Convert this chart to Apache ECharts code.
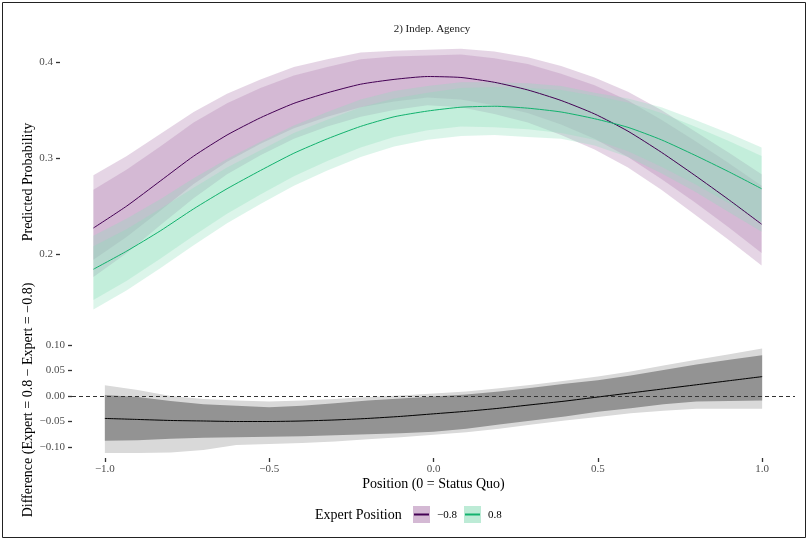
<!DOCTYPE html>
<html>
<head>
<meta charset="utf-8">
<script src="https://cdn.jsdelivr.net/npm/echarts@6/dist/echarts.min.js"></script>
<style>
  html, body { margin: 0; padding: 0; background: #fff; }
  #main { width: 808px; height: 540px; }
</style>
</head>
<body>
<div id="main"></div>
<script>
// positions on the policy scale
const xs = [-1.0, -0.9, -0.8, -0.7, -0.6, -0.5, -0.4, -0.3, -0.2, -0.1, 0.0,
            0.1, 0.2, 0.3, 0.4, 0.5, 0.6, 0.7, 0.8, 0.9, 1.0];

// expert = -0.8 (purple)
const pMid = [0.227, 0.250, 0.276, 0.302, 0.324, 0.342, 0.357, 0.368, 0.377, 0.382, 0.385,
              0.384, 0.379, 0.371, 0.360, 0.346, 0.328, 0.306, 0.282, 0.257, 0.231];
const pInLo = [0.194, 0.218, 0.245, 0.273, 0.296, 0.315, 0.331, 0.343, 0.353, 0.359, 0.363,
               0.361, 0.355, 0.347, 0.335, 0.320, 0.301, 0.278, 0.254, 0.228, 0.201];
const pInHi = [0.267, 0.288, 0.312, 0.337, 0.357, 0.373, 0.386, 0.395, 0.403, 0.406, 0.407,
               0.408, 0.404, 0.398, 0.388, 0.376, 0.360, 0.340, 0.318, 0.295, 0.271];
const pOutLo = [0.176, 0.201, 0.230, 0.258, 0.283, 0.303, 0.320, 0.333, 0.343, 0.350, 0.355,
                0.353, 0.346, 0.337, 0.324, 0.309, 0.290, 0.267, 0.241, 0.215, 0.188];
const pOutHi = [0.282, 0.302, 0.325, 0.348, 0.367, 0.382, 0.395, 0.403, 0.410, 0.412, 0.413,
                0.414, 0.411, 0.405, 0.396, 0.384, 0.369, 0.350, 0.328, 0.306, 0.283];

// expert = 0.8 (green)
const gMid = [0.184, 0.203, 0.224, 0.247, 0.268, 0.287, 0.305, 0.320, 0.333, 0.343, 0.349,
              0.353, 0.354, 0.352, 0.348, 0.341, 0.332, 0.319, 0.303, 0.286, 0.268];
const gInLo = [0.152, 0.172, 0.195, 0.219, 0.242, 0.262, 0.281, 0.297, 0.311, 0.322, 0.329,
               0.333, 0.332, 0.330, 0.326, 0.319, 0.307, 0.291, 0.273, 0.253, 0.233];
const gInHi = [0.208, 0.226, 0.247, 0.269, 0.290, 0.308, 0.326, 0.340, 0.353, 0.362, 0.368,
               0.373, 0.374, 0.373, 0.371, 0.365, 0.358, 0.347, 0.333, 0.318, 0.302];
const gOutLo = [0.142, 0.162, 0.185, 0.209, 0.232, 0.252, 0.271, 0.287, 0.301, 0.312, 0.319,
                0.323, 0.324, 0.322, 0.320, 0.313, 0.301, 0.284, 0.265, 0.244, 0.223];
const gOutHi = [0.219, 0.237, 0.257, 0.279, 0.299, 0.317, 0.334, 0.348, 0.361, 0.370, 0.375,
                0.379, 0.379, 0.378, 0.375, 0.368, 0.362, 0.353, 0.340, 0.326, 0.311];

// difference (0.8 - (-0.8))
const dMid = [-0.044, -0.046, -0.048, -0.049, -0.050, -0.050, -0.049, -0.047, -0.044, -0.040, -0.035,
              -0.030, -0.024, -0.017, -0.010, -0.002, 0.006, 0.014, 0.022, 0.030, 0.038];
const dInLo = [-0.088, -0.087, -0.084, -0.082, -0.081, -0.080, -0.079, -0.077, -0.075, -0.073, -0.070,
               -0.064, -0.056, -0.048, -0.040, -0.031, -0.024, -0.016, -0.011, -0.010, -0.009];
const dInHi = [0.002, -0.002, -0.010, -0.016, -0.019, -0.022, -0.019, -0.014, -0.009, -0.005, -0.001,
               0.003, 0.009, 0.016, 0.024, 0.031, 0.040, 0.051, 0.062, 0.071, 0.080];
const dOutLo = [-0.112, -0.112, -0.111, -0.106, -0.096, -0.094, -0.092, -0.089, -0.085, -0.081, -0.076,
                -0.071, -0.064, -0.056, -0.048, -0.041, -0.034, -0.029, -0.025, -0.025, -0.025];
const dOutHi = [0.021, 0.012, 0.000, -0.006, -0.009, -0.011, -0.009, -0.006, -0.002, 0.001, 0.005,
                0.009, 0.015, 0.022, 0.030, 0.038, 0.048, 0.060, 0.071, 0.082, 0.093];

const topTicks = [0.2, 0.3, 0.4];
const diffTicks = [-0.10, -0.05, 0.00, 0.05, 0.10];
const xTicks = [-1.0, -0.5, 0.0, 0.5, 1.0];
const groupLabels = ['\u22120.8', '0.8'];

const FONT = '"Liberation Serif", "DejaVu Serif", serif';
const PURPLE = '#440154';
const GREEN = '#12b26e';
const minus = s => s.replace('-', '\u2212');

// ribbon drawn as polygon through the axis scales
function ribbon(lo, hi, fill, g) {
  return {
    type: 'custom',
    xAxisIndex: g,
    yAxisIndex: g,
    silent: true,
    z: 1,
    data: [[xs[0], lo[0]]],
    renderItem: function (params, api) {
      let pts = [];
      for (let i = 0; i < xs.length; i++) pts.push(api.coord([xs[i], hi[i]]));
      for (let i = xs.length - 1; i >= 0; i--) pts.push(api.coord([xs[i], lo[i]]));
      return { type: 'polygon', shape: { points: pts }, style: { fill: fill } };
    }
  };
}

function line(vals, color, g) {
  return {
    type: 'line',
    xAxisIndex: g,
    yAxisIndex: g,
    data: xs.map((x, i) => [x, vals[i]]),
    showSymbol: false,
    smooth: 0.2,
    silent: true,
    z: 3,
    lineStyle: { color: color, width: 1 }
  };
}

const chart = echarts.init(document.getElementById('main'));

let diffLine = line(dMid, '#000', 1);
diffLine.markLine = {
  silent: true,
  symbol: 'none',
  label: { show: false },
  lineStyle: { color: '#333', type: [4, 3], width: 1 },
  data: [{ yAxis: 0 }]
};

const tickStyle = { color: '#333', width: 1.3 };

const option = {
  backgroundColor: '#fff',
  animation: false,
  textStyle: { fontFamily: FONT },
  title: {
    text: '2) Indep. Agency',
    left: 427, top: 19,
    textAlign: 'center',
    textStyle: { fontFamily: FONT, fontSize: 11, fontWeight: 'normal', color: '#1a1a1a' }
  },
  grid: [
    { left: 60, width: 735, top: 42, height: 280 },
    { left: 72, width: 723, top: 342, height: 116 }
  ],
  xAxis: [
    { type: 'value', gridIndex: 0, min: -1.1, max: 1.1, show: false },
    {
      type: 'value', gridIndex: 1, min: -1.1, max: 1.1,
      name: 'Position (0 = Status Quo)', nameLocation: 'middle', nameGap: 19,
      nameTextStyle: { fontFamily: FONT, fontSize: 14, color: '#000' },
      axisLine: { show: false, onZero: false },
      splitLine: { show: false },
      axisTick: { show: true, length: 4, customValues: xTicks, lineStyle: tickStyle },
      axisLabel: {
        customValues: xTicks, margin: 6, fontSize: 11, color: '#4d4d4d', fontFamily: FONT,
        formatter: v => minus(v.toFixed(1))
      }
    }
  ],
  yAxis: [
    {
      type: 'value', gridIndex: 0, min: 0.129, max: 0.421,
      name: 'Predicted Probability', nameLocation: 'middle', nameGap: 25,
      nameMoveOverlap: false,
      nameTextStyle: { fontFamily: FONT, fontSize: 14, color: '#000' },
      axisLine: { show: false, onZero: false },
      splitLine: { show: false },
      axisTick: { show: true, length: 4, customValues: topTicks, lineStyle: tickStyle },
      axisLabel: {
        customValues: topTicks, margin: 7, fontSize: 11, color: '#4d4d4d', fontFamily: FONT,
        formatter: v => v.toFixed(1)
      }
    },
    {
      type: 'value', gridIndex: 1, min: -0.1216, max: 0.1059,
      name: 'Difference (Expert = 0.8 \u2212 Expert = \u22120.8)', nameLocation: 'middle', nameGap: 37,
      nameMoveOverlap: false,
      nameTextStyle: { fontFamily: FONT, fontSize: 14, color: '#000' },
      axisLine: { show: false, onZero: false },
      splitLine: { show: false },
      axisTick: { show: true, length: 4, customValues: diffTicks, lineStyle: tickStyle },
      axisLabel: {
        customValues: diffTicks, margin: 7, fontSize: 11, color: '#4d4d4d', fontFamily: FONT,
        formatter: v => minus(v.toFixed(2))
      }
    }
  ],
  series: [
    ribbon(pOutLo, pOutHi, 'rgba(180,136,180,0.35)', 0),
    ribbon(pInLo, pInHi, 'rgba(180,136,180,0.35)', 0),
    ribbon(gOutLo, gOutHi, 'rgba(138,222,185,0.3)', 0),
    ribbon(gInLo, gInHi, 'rgba(138,222,185,0.3)', 0),
    line(pMid, PURPLE, 0),
    line(gMid, GREEN, 0),
    ribbon(dOutLo, dOutHi, '#d9d9d9', 1),
    ribbon(dInLo, dInHi, '#939393', 1),
    diffLine
  ],
  graphic: [
    { type: 'rect', silent: true, shape: { x: 2.5, y: 2.5, width: 803, height: 535 },
      style: { fill: null, stroke: '#222', lineWidth: 1 } },
    { type: 'text', silent: true, x: 315, y: 515,
      style: { text: 'Expert Position', font: '14px ' + FONT, fill: '#000', verticalAlign: 'middle' } },
    { type: 'rect', silent: true, shape: { x: 413, y: 506, width: 17, height: 17 },
      style: { fill: '#d4b9d4' } },
    { type: 'line', silent: true, shape: { x1: 414, y1: 514.5, x2: 429, y2: 514.5 },
      style: { stroke: PURPLE, lineWidth: 2 } },
    { type: 'text', silent: true, x: 437, y: 515,
      style: { text: groupLabels[0], font: '11px ' + FONT, fill: '#000', verticalAlign: 'middle' } },
    { type: 'rect', silent: true, shape: { x: 464, y: 506, width: 17, height: 17 },
      style: { fill: '#bdebd6' } },
    { type: 'line', silent: true, shape: { x1: 465, y1: 514.5, x2: 480, y2: 514.5 },
      style: { stroke: GREEN, lineWidth: 2 } },
    { type: 'text', silent: true, x: 488, y: 515,
      style: { text: groupLabels[1], font: '11px ' + FONT, fill: '#000', verticalAlign: 'middle' } }
  ]
};

chart.setOption(option);
</script>
</body>
</html>
